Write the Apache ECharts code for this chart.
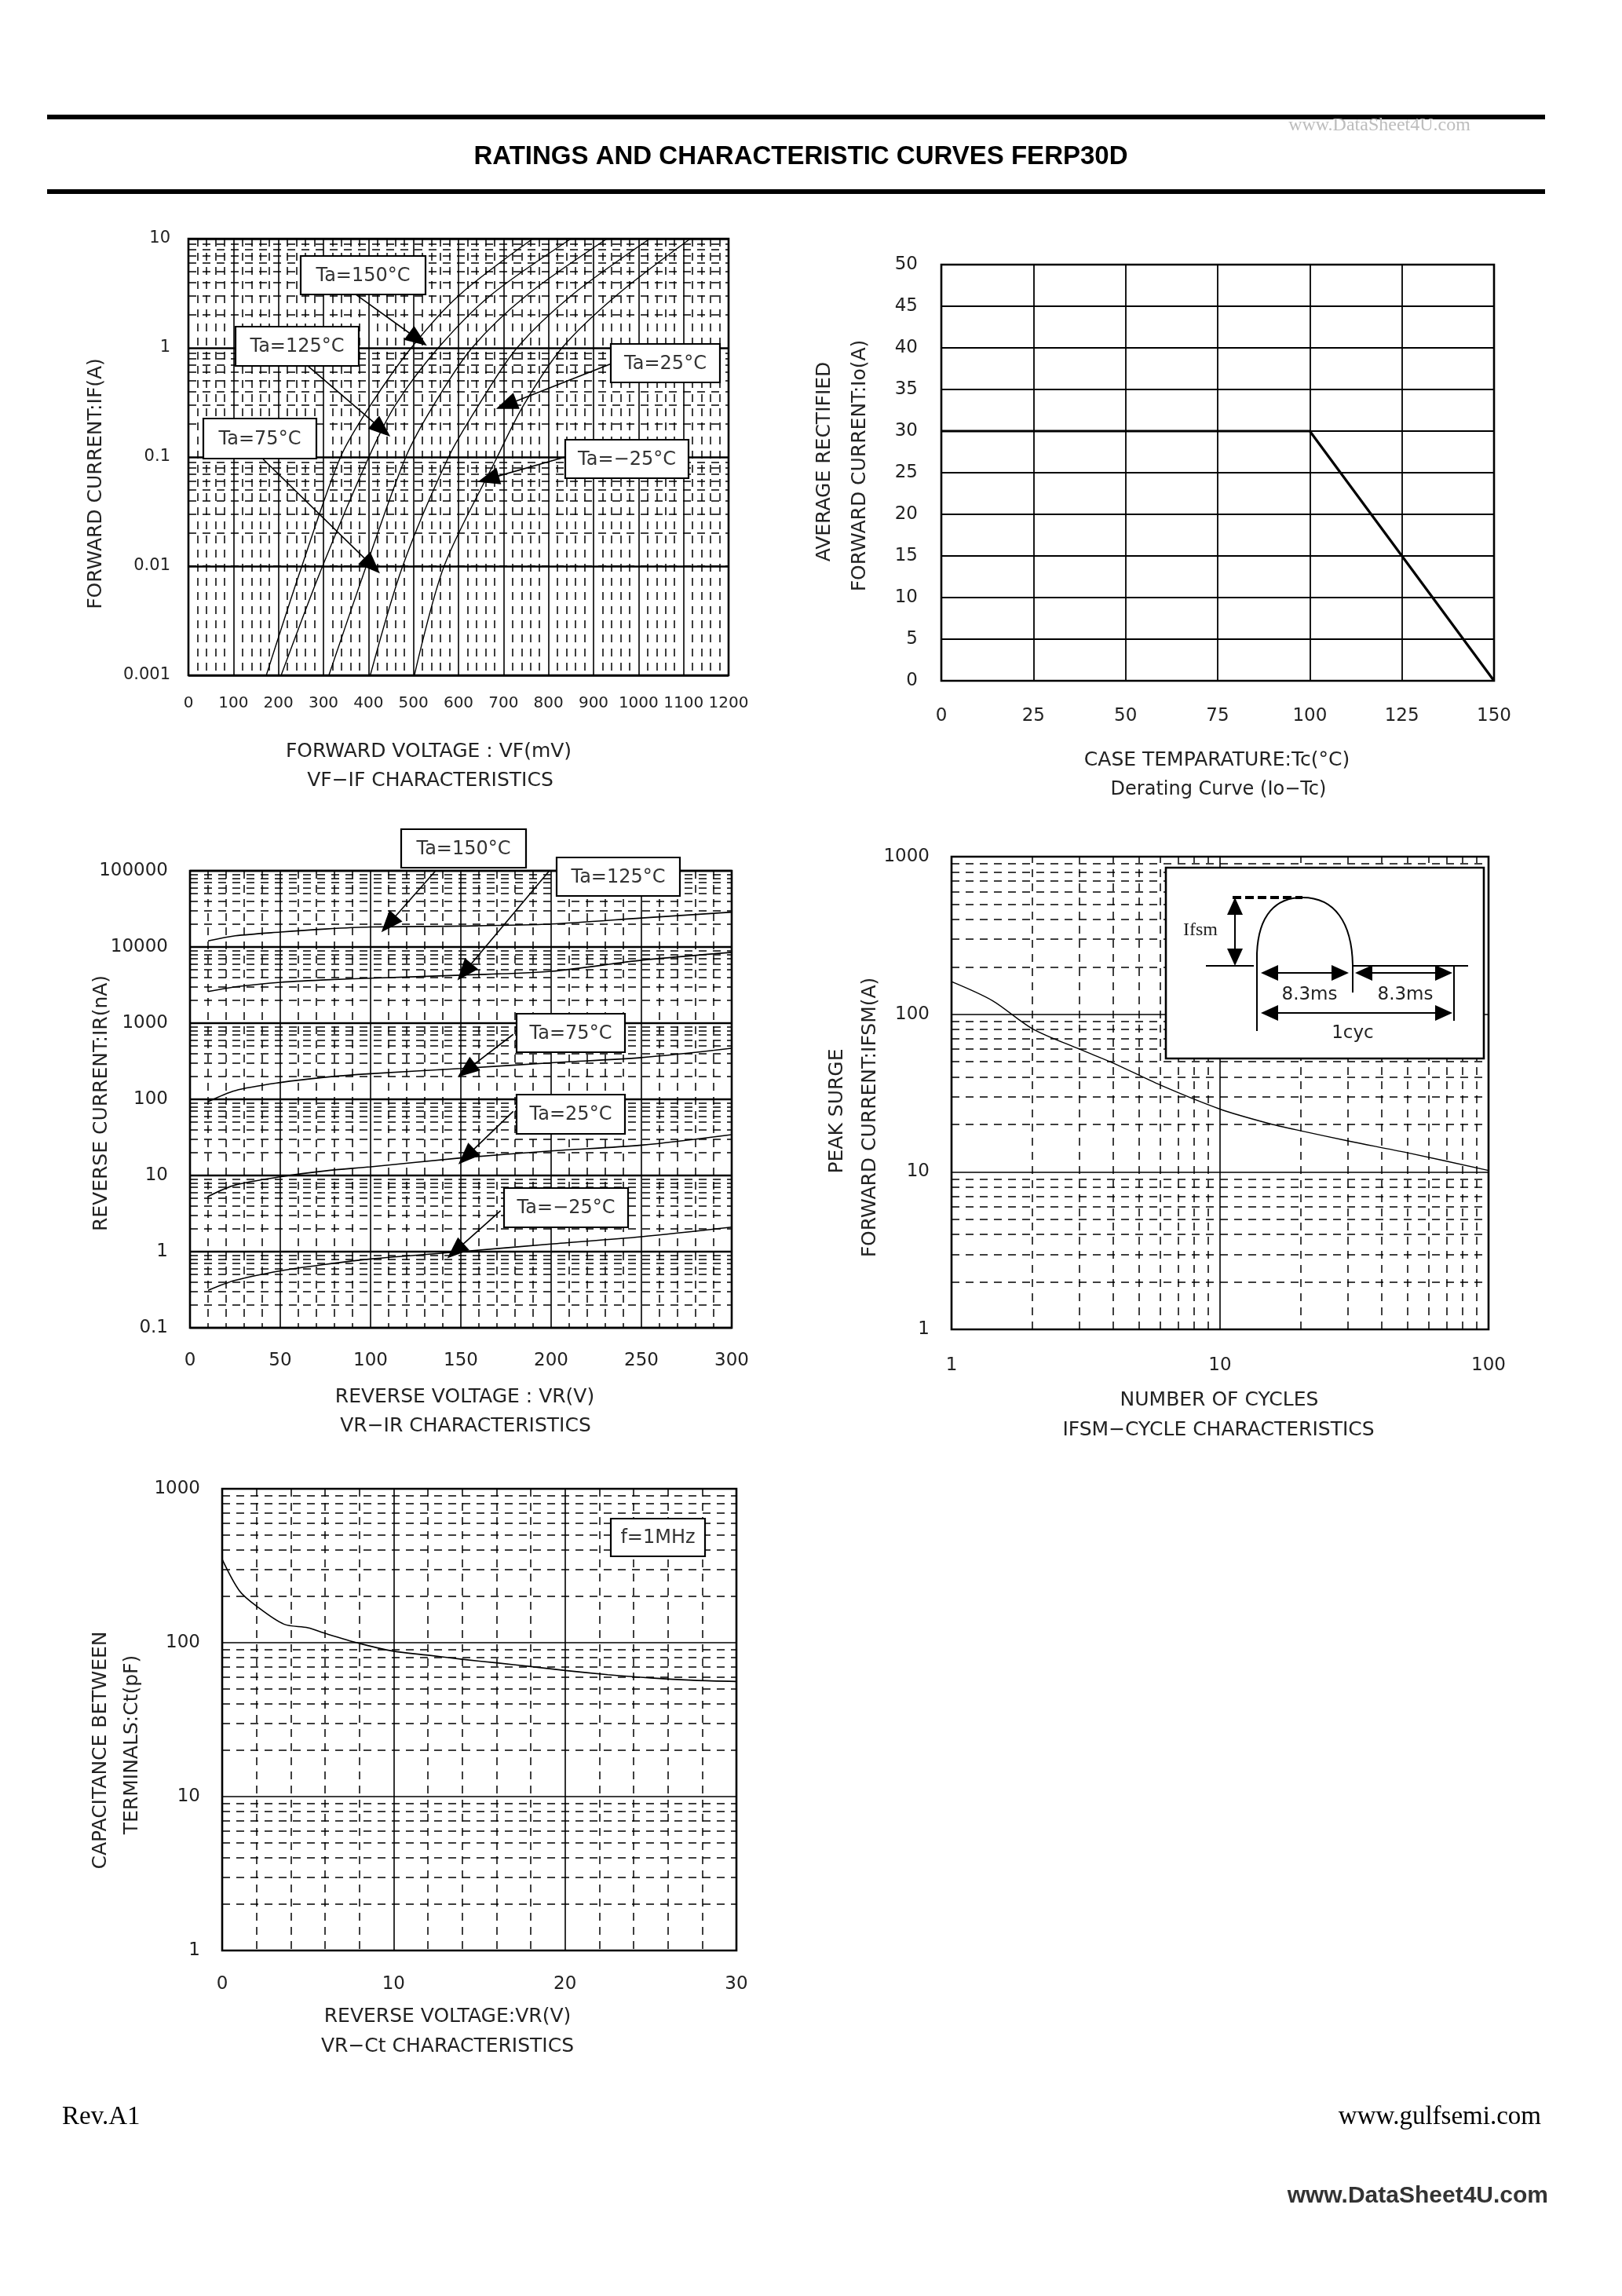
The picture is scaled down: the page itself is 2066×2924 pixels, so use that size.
<!DOCTYPE html>
<html>
<head>
<meta charset="utf-8">
<title>FERP30D ratings and characteristic curves</title>
<script src="https://cdn.jsdelivr.net/npm/echarts@6/dist/echarts.min.js"></script>
<style>
* { margin: 0; padding: 0; }
body { background: #fff; }
#page { width: 2066px; height: 2924px; }
</style>
</head>
<body>
<div id="page"></div>
<script>
// ---- values ----
// VF-IF : forward voltage (mV) at each current (A)
const ifCurrent = [0.001, 0.01, 0.1, 0.3, 1, 3, 10];
const vf150 = [173, 252, 338, 405, 495, 600, 765];
const vf125 = [206, 298, 401, 460, 555, 670, 850];
const vf75  = [312, 395, 483, 545, 630, 750, 930];
const vf25  = [404, 476, 578, 645, 730, 850, 1025];
const vfM25 = [502, 568, 686, 745, 830, 950, 1115];

// derating Io-Tc
const caseTemp = [0, 100, 150];
const ioAmps   = [30, 30, 0];

// VR-IR : reverse current (nA) at each reverse voltage (V)
const vrVolts = [10, 25, 50, 75, 100, 150, 200, 250, 300];
const ir150 = [12000, 14000, 15700, 17200, 18300, 18800, 20000, 24000, 28700];
const ir125 = [2600, 3000, 3440, 3700, 3890, 4270, 4790, 6700, 8500];
const ir75  = [93, 130, 166, 195, 217, 254, 302, 353, 468];
const ir25  = [5.3, 7.5, 9.6, 11.5, 13, 17, 21, 25, 34.4];
const irM25 = [0.31, 0.42, 0.56, 0.68, 0.8, 1.0, 1.26, 1.57, 2.1];

// IFSM vs number of cycles
const cycles = [1, 1.42, 2, 3, 4, 6, 10, 15, 20, 30, 50, 100];
const ifsm   = [161, 122, 81, 60, 49, 35.5, 25, 20.4, 18.2, 15.7, 13.2, 10.2];

// VR-Ct
const vrCap = [0, 1, 2, 3.6, 5, 6, 8, 10, 12, 14, 16, 18, 20, 22.5, 25, 27.5, 30];
const ctPf  = [348, 218, 173, 132, 125, 115, 99, 88, 83, 78, 74, 70, 66, 62, 59, 57, 56];

// label boxes (page px) and their arrows (data coords: tail -> tip)
const vfNotes = [
  { label: 'Ta=150°C', box: [383, 326, 159, 49], from: [372, 3.08], to: [510, 1.2] },
  { label: 'Ta=125°C', box: [300, 416, 157, 50], from: [265, 0.684], to: [430, 0.179] },
  { label: 'Ta=75°C',  box: [259, 533, 144, 51], from: [166, 0.0955], to: [408, 0.0101] },
  { label: 'Ta=25°C',  box: [778, 438, 139, 49], from: [939, 0.714], to: [706, 0.30] },
  { label: 'Ta=−25°C', box: [720, 560, 157, 49], from: [837, 0.1], to: [666, 0.063] }
];
const irNotes = [
  { label: 'Ta=150°C', box: [511, 1056, 159, 49], from: [136, 100000], to: [110, 20000] },
  { label: 'Ta=125°C', box: [709, 1092, 157, 49], from: [199, 100000], to: [152, 4700] },
  { label: 'Ta=75°C',  box: [658, 1291, 138, 49], from: [179, 713], to: [153, 240] },
  { label: 'Ta=25°C',  box: [658, 1394, 138, 50], from: [179, 69.5], to: [153, 17.7] },
  { label: 'Ta=−25°C', box: [642, 1513, 158, 50], from: [172, 3.44], to: [147, 1.02] }
];

const INK = '#000';
const TXT = '#222';
const FONT = 'DejaVu Sans';
const DASH = [10, 8];

function logMinors(lo, hi) {
  const out = [];
  const e0 = Math.round(Math.log10(lo)), e1 = Math.round(Math.log10(hi));
  for (let e = e0; e < e1; e++) {
    for (let k = 2; k <= 9; k++) out.push(+(k * Math.pow(10, e)).toPrecision(6));
  }
  return out;
}
const plainLabel = v => String(+(+v).toPrecision(6));

function pairs(xs, ys) { return xs.map((x, i) => [x, ys[i]]); }

function arrowMark(note) {
  return {
    silent: true, animation: false,
    symbol: ['none', 'triangle'], symbolSize: [22, 28],
    label: { show: false },
    lineStyle: { color: INK, width: 1.6, type: 'solid' },
    data: [[{ coord: note.from }, { coord: note.to }]]
  };
}

function curve(idx, data, width, note) {
  const s = {
    type: 'line', xAxisIndex: idx, yAxisIndex: idx, data,
    symbol: 'none', showSymbol: false, smooth: 0.3, silent: true,
    lineStyle: { color: INK, width }
  };
  if (note) s.markLine = arrowMark(note);
  return s;
}

function gridLines(idx, marks) {
  return {
    type: 'line', xAxisIndex: idx, yAxisIndex: idx, data: [], silent: true,
    markLine: {
      silent: true, animation: false, symbol: 'none', label: { show: false },
      lineStyle: { color: INK, width: 1.5, type: DASH },
      data: marks
    }
  };
}

function labels(size, margin) {
  return {
    color: TXT, fontFamily: FONT, fontSize: size, margin,
    formatter: plainLabel, hideOverlap: false,
    showMinLabel: true, showMaxLabel: true
  };
}

function baseAxis(gridIndex, o) {
  return Object.assign({
    gridIndex,
    axisLine: { show: false },
    axisTick: { show: false },
    axisLabel: labels(23, 28),
    splitLine: { show: true, lineStyle: { color: INK, width: 1.6 } }
  }, o);
}

const grids = [
  { left: 240, top: 304, width: 688, height: 556 },
  { left: 1199, top: 337, width: 704, height: 530 },
  { left: 242, top: 1109, width: 690, height: 582 },
  { left: 1212, top: 1091, width: 684, height: 602 },
  { left: 283, top: 1896, width: 655, height: 588 }
].map(g => Object.assign(g, {
  show: true, borderColor: INK, borderWidth: 2.6, backgroundColor: 'transparent',
  containLabel: false, outerBoundsMode: 'none'
}));

const xAxes = [
  baseAxis(0, {
    type: 'value', min: 0, max: 1200, interval: 100,
    axisLabel: labels(20, 26),
    minorTick: { show: false, splitNumber: 5 },
    minorSplitLine: { show: true, lineStyle: { color: INK, width: 1.5, type: DASH } }
  }),
  baseAxis(1, {
    type: 'value', min: 0, max: 150, interval: 25,
    axisLabel: labels(23, 34)
  }),
  baseAxis(2, {
    type: 'value', min: 0, max: 300, interval: 50,
    axisLabel: labels(23, 31),
    minorTick: { show: false, splitNumber: 5 },
    minorSplitLine: { show: true, lineStyle: { color: INK, width: 1.5, type: DASH } }
  }),
  baseAxis(3, {
    type: 'log', logBase: 10, min: 1, max: 100,
    axisLabel: labels(23, 35)
  }),
  baseAxis(4, {
    type: 'value', min: 0, max: 30, interval: 10,
    axisLabel: labels(23, 32),
    minorTick: { show: false, splitNumber: 5 },
    minorSplitLine: { show: true, lineStyle: { color: INK, width: 1.5, type: DASH } }
  })
];

const yAxes = [
  baseAxis(0, {
    type: 'log', logBase: 10, min: 0.001, max: 10,
    axisLabel: labels(21, 23),
    splitLine: { show: true, lineStyle: { color: INK, width: 2.6 } }
  }),
  baseAxis(1, {
    type: 'value', min: 0, max: 50, interval: 5,
    axisLabel: labels(23, 30),
    splitLine: { show: true, lineStyle: { color: INK, width: 1.8 } }
  }),
  baseAxis(2, {
    type: 'log', logBase: 10, min: 0.1, max: 100000,
    axisLabel: labels(23, 28),
    splitLine: { show: true, lineStyle: { color: INK, width: 2.4 } }
  }),
  baseAxis(3, {
    type: 'log', logBase: 10, min: 1, max: 1000,
    axisLabel: labels(23, 28)
  }),
  baseAxis(4, {
    type: 'log', logBase: 10, min: 1, max: 1000,
    axisLabel: labels(23, 28)
  })
];
xAxes[1].splitLine = { show: true, lineStyle: { color: INK, width: 1.8 } };

const series = [
  gridLines(0, logMinors(0.001, 10).map(v => ({ yAxis: v }))),
  curve(0, pairs(vf150, ifCurrent), 1.4, vfNotes[0]),
  curve(0, pairs(vf125, ifCurrent), 1.4, vfNotes[1]),
  curve(0, pairs(vf75, ifCurrent), 1.4, vfNotes[2]),
  curve(0, pairs(vf25, ifCurrent), 1.4, vfNotes[3]),
  curve(0, pairs(vfM25, ifCurrent), 1.4, vfNotes[4]),

  Object.assign(curve(1, pairs(caseTemp, ioAmps), 3.2), { smooth: false }),

  gridLines(2, logMinors(0.1, 100000).map(v => ({ yAxis: v }))),
  curve(2, pairs(vrVolts, ir150), 1.6, irNotes[0]),
  curve(2, pairs(vrVolts, ir125), 1.6, irNotes[1]),
  curve(2, pairs(vrVolts, ir75), 1.6, irNotes[2]),
  curve(2, pairs(vrVolts, ir25), 1.6, irNotes[3]),
  curve(2, pairs(vrVolts, irM25), 1.6, irNotes[4]),

  gridLines(3, logMinors(1, 100).map(v => ({ xAxis: v })).concat(logMinors(1, 1000).map(v => ({ yAxis: v })))),
  curve(3, pairs(cycles, ifsm), 1.4),

  gridLines(4, logMinors(1, 1000).map(v => ({ yAxis: v }))),
  curve(4, pairs(vrCap, ctPf), 1.6)
];

// ---- page furniture drawn with graphic elements ----
const g = [];
function text(x, y, s, o) {
  o = o || {};
  g.push({
    type: 'text', x, y, rotation: o.rot || 0, z: 60, silent: true,
    style: {
      text: s, fill: o.color || TXT, fontSize: o.size || 25,
      fontFamily: o.family || FONT, fontWeight: o.weight || 'normal',
      align: o.align || 'center', verticalAlign: 'middle'
    }
  });
}
function rect(x, y, w, h, o) {
  o = o || {};
  g.push({
    type: 'rect', z: o.z || 50, silent: true, shape: { x, y, width: w, height: h },
    style: { fill: o.fill || '#fff', stroke: o.stroke === undefined ? INK : o.stroke, lineWidth: o.lw || 2 }
  });
}
function seg(x1, y1, x2, y2, o) {
  o = o || {};
  g.push({
    type: 'line', z: 62, silent: true, shape: { x1, y1, x2, y2 },
    style: { stroke: INK, lineWidth: o.lw || 2, lineDash: o.dash || null }
  });
}
function head(x, y, dx, dy) {
  const L = 22, W = 10;
  const bx = x - dx * L, by = y - dy * L;
  g.push({
    type: 'polygon', z: 63, silent: true,
    shape: { points: [[x, y], [bx - dy * W, by + dx * W], [bx + dy * W, by - dx * W]] },
    style: { fill: INK }
  });
}
function dblArrowH(x1, x2, y) { seg(x1 + 10, y, x2 - 10, y); head(x1, y, -1, 0); head(x2, y, 1, 0); }
function noteBox(n, size) {
  const b = n.box;
  rect(b[0], b[1], b[2], b[3], { lw: 2.2 });
  text(b[0] + b[2] / 2, b[1] + b[3] / 2 + 1, n.label, { size: size, color: '#333' });
}

// header
rect(60, 146, 1908, 6, { fill: INK, stroke: null, lw: 0 });
rect(60, 241, 1908, 6, { fill: INK, stroke: null, lw: 0 });
text(1020, 200, 'RATINGS AND CHARACTERISTIC CURVES FERP30D', { size: 33, weight: 'bold', family: 'Liberation Sans', color: '#000' });
text(1757, 160, 'www.DataSheet4U.com', { size: 24, family: 'Liberation Serif', color: '#bdbdbd' });

// chart 1 texts
text(122, 616, 'FORWARD CURRENT:IF(A)', { rot: Math.PI / 2, size: 25 });
text(546, 957, 'FORWARD VOLTAGE : VF(mV)', { size: 25 });
text(548, 994, 'VF−IF CHARACTERISTICS', { size: 25 });
vfNotes.forEach(n => noteBox(n, 24));

// chart 2 texts
text(1050, 588, 'AVERAGE RECTIFIED', { rot: Math.PI / 2, size: 25 });
text(1095, 593, 'FORWARD CURRENT:Io(A)', { rot: Math.PI / 2, size: 25 });
text(1550, 968, 'CASE TEMPARATURE:Tc(°C)', { size: 25 });
text(1552, 1006, 'Derating Curve (Io−Tc)', { size: 24 });

// chart 3 texts
text(129, 1405, 'REVERSE CURRENT:IR(nA)', { rot: Math.PI / 2, size: 25 });
text(592, 1779, 'REVERSE VOLTAGE : VR(V)', { size: 25 });
text(593, 1816, 'VR−IR CHARACTERISTICS', { size: 25 });
irNotes.forEach(n => noteBox(n, 24));

// chart 4 texts
text(1066, 1415, 'PEAK SURGE', { rot: Math.PI / 2, size: 25 });
text(1108, 1423, 'FORWARD CURRENT:IFSM(A)', { rot: Math.PI / 2, size: 25 });
text(1553, 1783, 'NUMBER OF CYCLES', { size: 25 });
text(1552, 1821, 'IFSM−CYCLE CHARACTERISTICS', { size: 25 });

// chart 4 inset: one half-cycle surge pulse
rect(1485, 1105, 405, 243, { lw: 2.6, z: 55 });
seg(1536, 1230, 1597, 1230);
seg(1723, 1230, 1870, 1230);
seg(1601, 1313, 1601, 1214);
g.push({
  type: 'bezierCurve', z: 62, silent: true,
  shape: { x1: 1601, y1: 1214, cpx1: 1603, cpy1: 1165, cpx2: 1625, cpy2: 1143, x2: 1659, y2: 1143 },
  style: { stroke: INK, lineWidth: 2, fill: 'none' }
});
g.push({
  type: 'bezierCurve', z: 62, silent: true,
  shape: { x1: 1659, y1: 1143, cpx1: 1700, cpy1: 1143, cpx2: 1722, cpy2: 1175, x2: 1723, y2: 1229 },
  style: { stroke: INK, lineWidth: 2, fill: 'none' }
});
seg(1723, 1229, 1723, 1264);
seg(1852, 1230, 1852, 1300);
seg(1570, 1143, 1659, 1143, { lw: 4, dash: [11, 5] });
seg(1573, 1160, 1573, 1213);
head(1573, 1143, 0, -1);
head(1573, 1230, 0, 1);
text(1529, 1185, 'Ifsm', { size: 24, family: 'Liberation Serif', color: '#222' });
dblArrowH(1606, 1718, 1239);
dblArrowH(1726, 1850, 1239);
dblArrowH(1606, 1850, 1290);
text(1668, 1267, '8.3ms', { size: 23 });
text(1790, 1267, '8.3ms', { size: 23 });
text(1723, 1316, '1cyc', { size: 23 });

// chart 5 texts
text(128, 2229, 'CAPACITANCE BETWEEN', { rot: Math.PI / 2, size: 25 });
text(168, 2222, 'TERMINALS:Ct(pF)', { rot: Math.PI / 2, size: 25 });
text(570, 2568, 'REVERSE VOLTAGE:VR(V)', { size: 25 });
text(570, 2606, 'VR−Ct CHARACTERISTICS', { size: 25 });
rect(778, 1934, 120, 48, { lw: 2.2 });
text(838, 1959, 'f=1MHz', { size: 24, color: '#333' });

// footer
text(79, 2696, 'Rev.A1', { size: 33, family: 'Liberation Serif', align: 'left', color: '#000' });
text(1963, 2696, 'www.gulfsemi.com', { size: 33, family: 'Liberation Serif', align: 'right', color: '#000' });
text(1972, 2797, 'www.DataSheet4U.com', { size: 30, family: 'Liberation Sans', weight: 'bold', align: 'right', color: '#333' });

const chart = echarts.init(document.getElementById('page'), null, { renderer: 'canvas' });
chart.setOption({
  animation: false,
  backgroundColor: '#fff',
  grid: grids,
  xAxis: xAxes,
  yAxis: yAxes,
  series: series,
  graphic: { elements: g }
});
</script>
</body>
</html>
